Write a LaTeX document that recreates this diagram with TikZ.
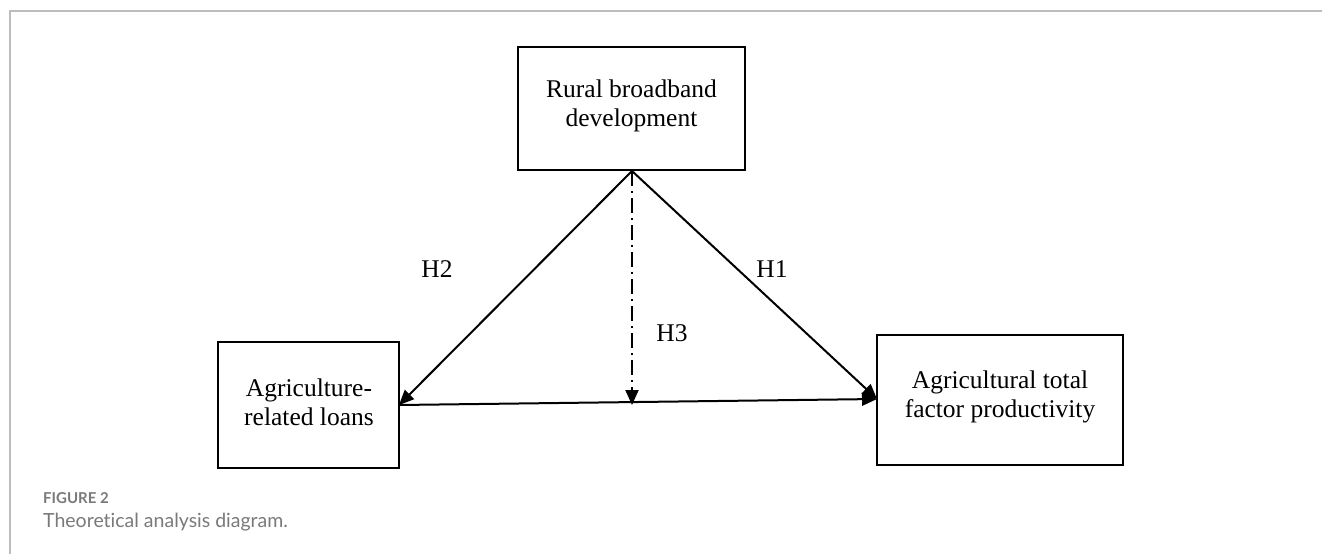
\documentclass[tikz,border=0pt]{standalone}
\usepackage{fontspec}
\setmainfont{Liberation Serif}
\newfontfamily\capfont[Ligatures=NoCommon]{Lato}
\usetikzlibrary{arrows.meta}
\definecolor{framegray}{HTML}{BDBDBD}
\definecolor{capgray}{HTML}{7A7A7A}
\begin{document}
\begin{tikzpicture}[x=1pt,y=-1pt,
  boxstyle/.style={draw=black,line width=2pt,inner sep=0pt},
  boxtext/.style={align=center,inner sep=0pt,anchor=base,font=\fontsize{25.5}{29}\selectfont},
  hlabel/.style={inner sep=0pt,anchor=base,font=\fontsize{25.5}{29}\selectfont},
  conn/.style={line width=2pt,-{Triangle[length=15pt,width=13pt]}},
  dashconn/.style={conn,dash pattern=on 15pt off 5pt on 2pt off 5pt}]
\useasboundingbox (0,0) rectangle (1322,554);
\fill[white] (0,0) rectangle (1322,554);
\draw[framegray,line width=2pt] (10,554) -- (10,11) -- (1322,11);
% boxes
\node[boxstyle,minimum width=227pt,minimum height=123pt] (top) at (631.5,108.5) {};
\node[boxstyle,minimum width=181pt,minimum height=126pt] (left) at (308.5,405) {};
\node[boxstyle,minimum width=246pt,minimum height=130pt] (right) at (1000,400) {};
% texts (base = baseline of last line)
\node[boxtext] (toptext) at (631.5,126) {Rural broadband\\development};
\node[boxtext] (lefttext) at (309,425) {Agriculture-\\related loans};
\node[boxtext] (righttext) at (1000,417) {Agricultural total\\factor productivity};
% connector end points
\coordinate (apex) at (632,171);
\coordinate (lefttip) at (399,405);
\coordinate (righttip) at (877,399);
\coordinate (midtip) at (632,405);
\draw[conn] (apex) -- (lefttip);
\draw[conn] (apex) -- (righttip);
\draw[conn] (lefttip) -- (righttip);
\draw[dashconn] (apex) -- (midtip);
% labels
\node[hlabel] (h2) at (437,277) {H2};
\node[hlabel] (h1) at (772,277) {H1};
\node[hlabel] (h3) at (672,341) {H3};
% caption
\node[anchor=base west,inner sep=0pt,text=capgray,font=\capfont\bfseries\fontsize{15}{17}\selectfont] (figlabel) at (43,503) {FIGURE 2};
\node[anchor=base west,inner sep=0pt,text=capgray,font=\capfont\fontsize{19.5}{23}\selectfont] (figcap) at (43,527) {Theoretical analysis diagram.};
\end{tikzpicture}
\end{document}
